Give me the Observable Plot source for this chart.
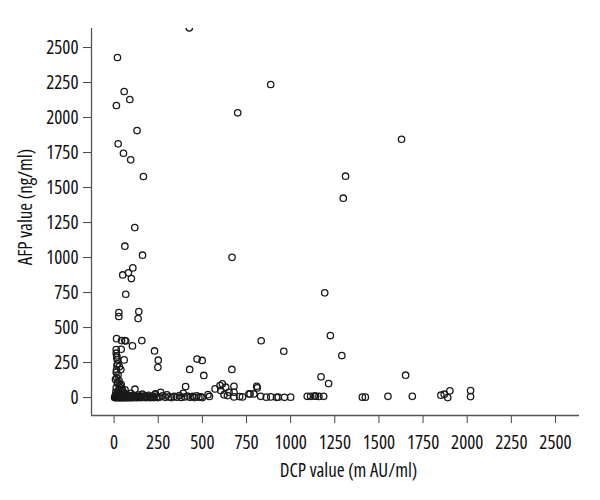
<!DOCTYPE html>
<html><head><meta charset="utf-8">
<script src="https://cdn.jsdelivr.net/npm/d3@7"></script>
<script src="https://cdn.jsdelivr.net/npm/@observablehq/plot@0.6"></script>
<style>body{margin:0;background:#fff}</style>
</head><body><div id="chart"></div>
<script>
// DCP (m AU/ml) and AFP (ng/ml) values
const dcpHigh = [426,19,57,89,13,887,700,130,23,53,94,166,117,61,1628,1311,1298,161,668,49,81,106,98,66,27,27,140,136,1193,1225,1290,1172,1215,1651];
const afpHigh = [2640,2429,2186,2129,2086,2236,2034,1907,1812,1745,1698,1579,1214,1081,1845,1581,1424,1017,1002,876,891,926,850,738,607,579,614,564,748,443,300,148,100,160];
const dcpMid = [14,42,61,66,157,104,229,250,248,470,499,428,508,667,833,961,405];
const afpMid = [421,407,407,404,407,369,333,267,216,275,265,201,158,201,406,331,79];
const dcpColumn = [12,40,15,12,57,15,18,20,30,14,38,12,22,15,28,18,35,12,25,45,10,60,20,40,8,30,50,16];
const afpColumn = [343,345,298,317,269,288,269,241,221,198,200,181,162,141,121,102,86,69,50,60,40,30,110,95,130,75,45,230];
const dcpLow = [532,572,600,613,604,632,623,642,651,679,679,808,764,792,770,811,679,711,727,830,862,887,920,930,965,1000,540];
const afpLow = [21,62,86,98,50,74,21,14,38,38,81,81,26,26,26,69,5,7,5,9,3,5,2,3,2,3,8];
const dcpFar = [1094,1113,1134,1141,1160,1187,1406,1423,1551,1689,1851,1870,1890,1902,2019,2019];
const afpFar = [9,9,11,10,8,9,3,3,9,9,17,24,0,48,50,7];
const dcpBand = [234,264,260,275,290,300,310,325,340,355,370,380,392,400,415,430,445,455,468,480,492,500];
const afpBand = [26,38,5,12,2,20,5,0,8,3,15,1,30,4,10,2,8,0,12,3,6,0];
const dcpDense = [3,5,7,9,10,12,14,15,17,19,20,22,24,25,27,29,30,32,34,35,37,39,40,42,44,45,47,49,50,52,54,56,58,60,62,64,66,68,70,72,75,78,80,82,85,88,90,92,95,98,100,103,106,109,112,115,118,120,124,128,132,136,140,144,148,152,156,160,165,170,175,180,185,190,196,202,208,214,220,226,232,240,248];
const afpDense = [0,8,2,15,0,4,22,1,9,35,0,5,12,0,3,28,0,7,1,18,0,4,45,2,10,0,6,24,1,0,14,3,0,8,55,2,0,11,4,0,20,1,6,0,3,12,0,5,30,1,0,8,2,15,0,4,60,1,9,0,3,18,0,6,2,10,0,24,4,1,12,0,7,2,16,0,5,1,9,0,20,3,0];

const xTicks = [0,250,500,750,1000,1250,1500,1750,2000,2250,2500];
const yTicks = [0,250,500,750,1000,1250,1500,1750,2000,2250,2500];
const xTitle = "DCP value (m AU/ml)";
const yTitle = "AFP value (ng/ml)";

const dcpAll = [...dcpHigh,...dcpMid,...dcpColumn,...dcpLow,...dcpFar,...dcpBand,...dcpDense];
const afpAll = [...afpHigh,...afpMid,...afpColumn,...afpLow,...afpFar,...afpBand,...afpDense];
const data = dcpAll.map((d,i)=>({dcp:d, afp:afpAll[i]}));

const font = "'Open Sans',sans-serif";
const lo = -128, hi = 2636;

const chart = Plot.plot({
  width: 600, height: 500,
  marginLeft: 91, marginRight: 21, marginTop: 28, marginBottom: 85,
  style: {fontFamily: font, fontStretch: "condensed", fontSize: "19px", color: "#111", background: "#fff"},
  x: {domain: [lo, hi]},
  y: {domain: [lo, hi]},
  marks: [
    Plot.ruleX([lo], {stroke: "#555", strokeWidth: 1.3}),
    Plot.ruleY([lo], {stroke: "#555", strokeWidth: 1.3}),
    Plot.axisX({ticks: xTicks, tickFormat: d => String(d), tickSize: 8, tickPadding: 12, label: null, stroke: "#444", fill: "#111"}),
    Plot.axisY({ticks: yTicks, tickFormat: d => String(d), tickSize: 8, tickPadding: 5, label: null, stroke: "#444", fill: "#111"}),
    Plot.dot(data, {x: "dcp", y: "afp", r: 3.2, stroke: "#1a1a1a", strokeWidth: 1.3, fill: "none", clip: "frame"}),
    Plot.text([xTitle], {frameAnchor: "bottom", lineAnchor: "middle", textAnchor: "middle", dy: 55, dx: 13, fontSize: 19, fill: "#111"}),
    Plot.text([yTitle], {frameAnchor: "left", lineAnchor: "middle", textAnchor: "middle", rotate: -90, dx: -66, dy: -15, fontSize: 19, fill: "#111"})
  ]
});
document.getElementById("chart").appendChild(chart);
</script>
</body></html>
